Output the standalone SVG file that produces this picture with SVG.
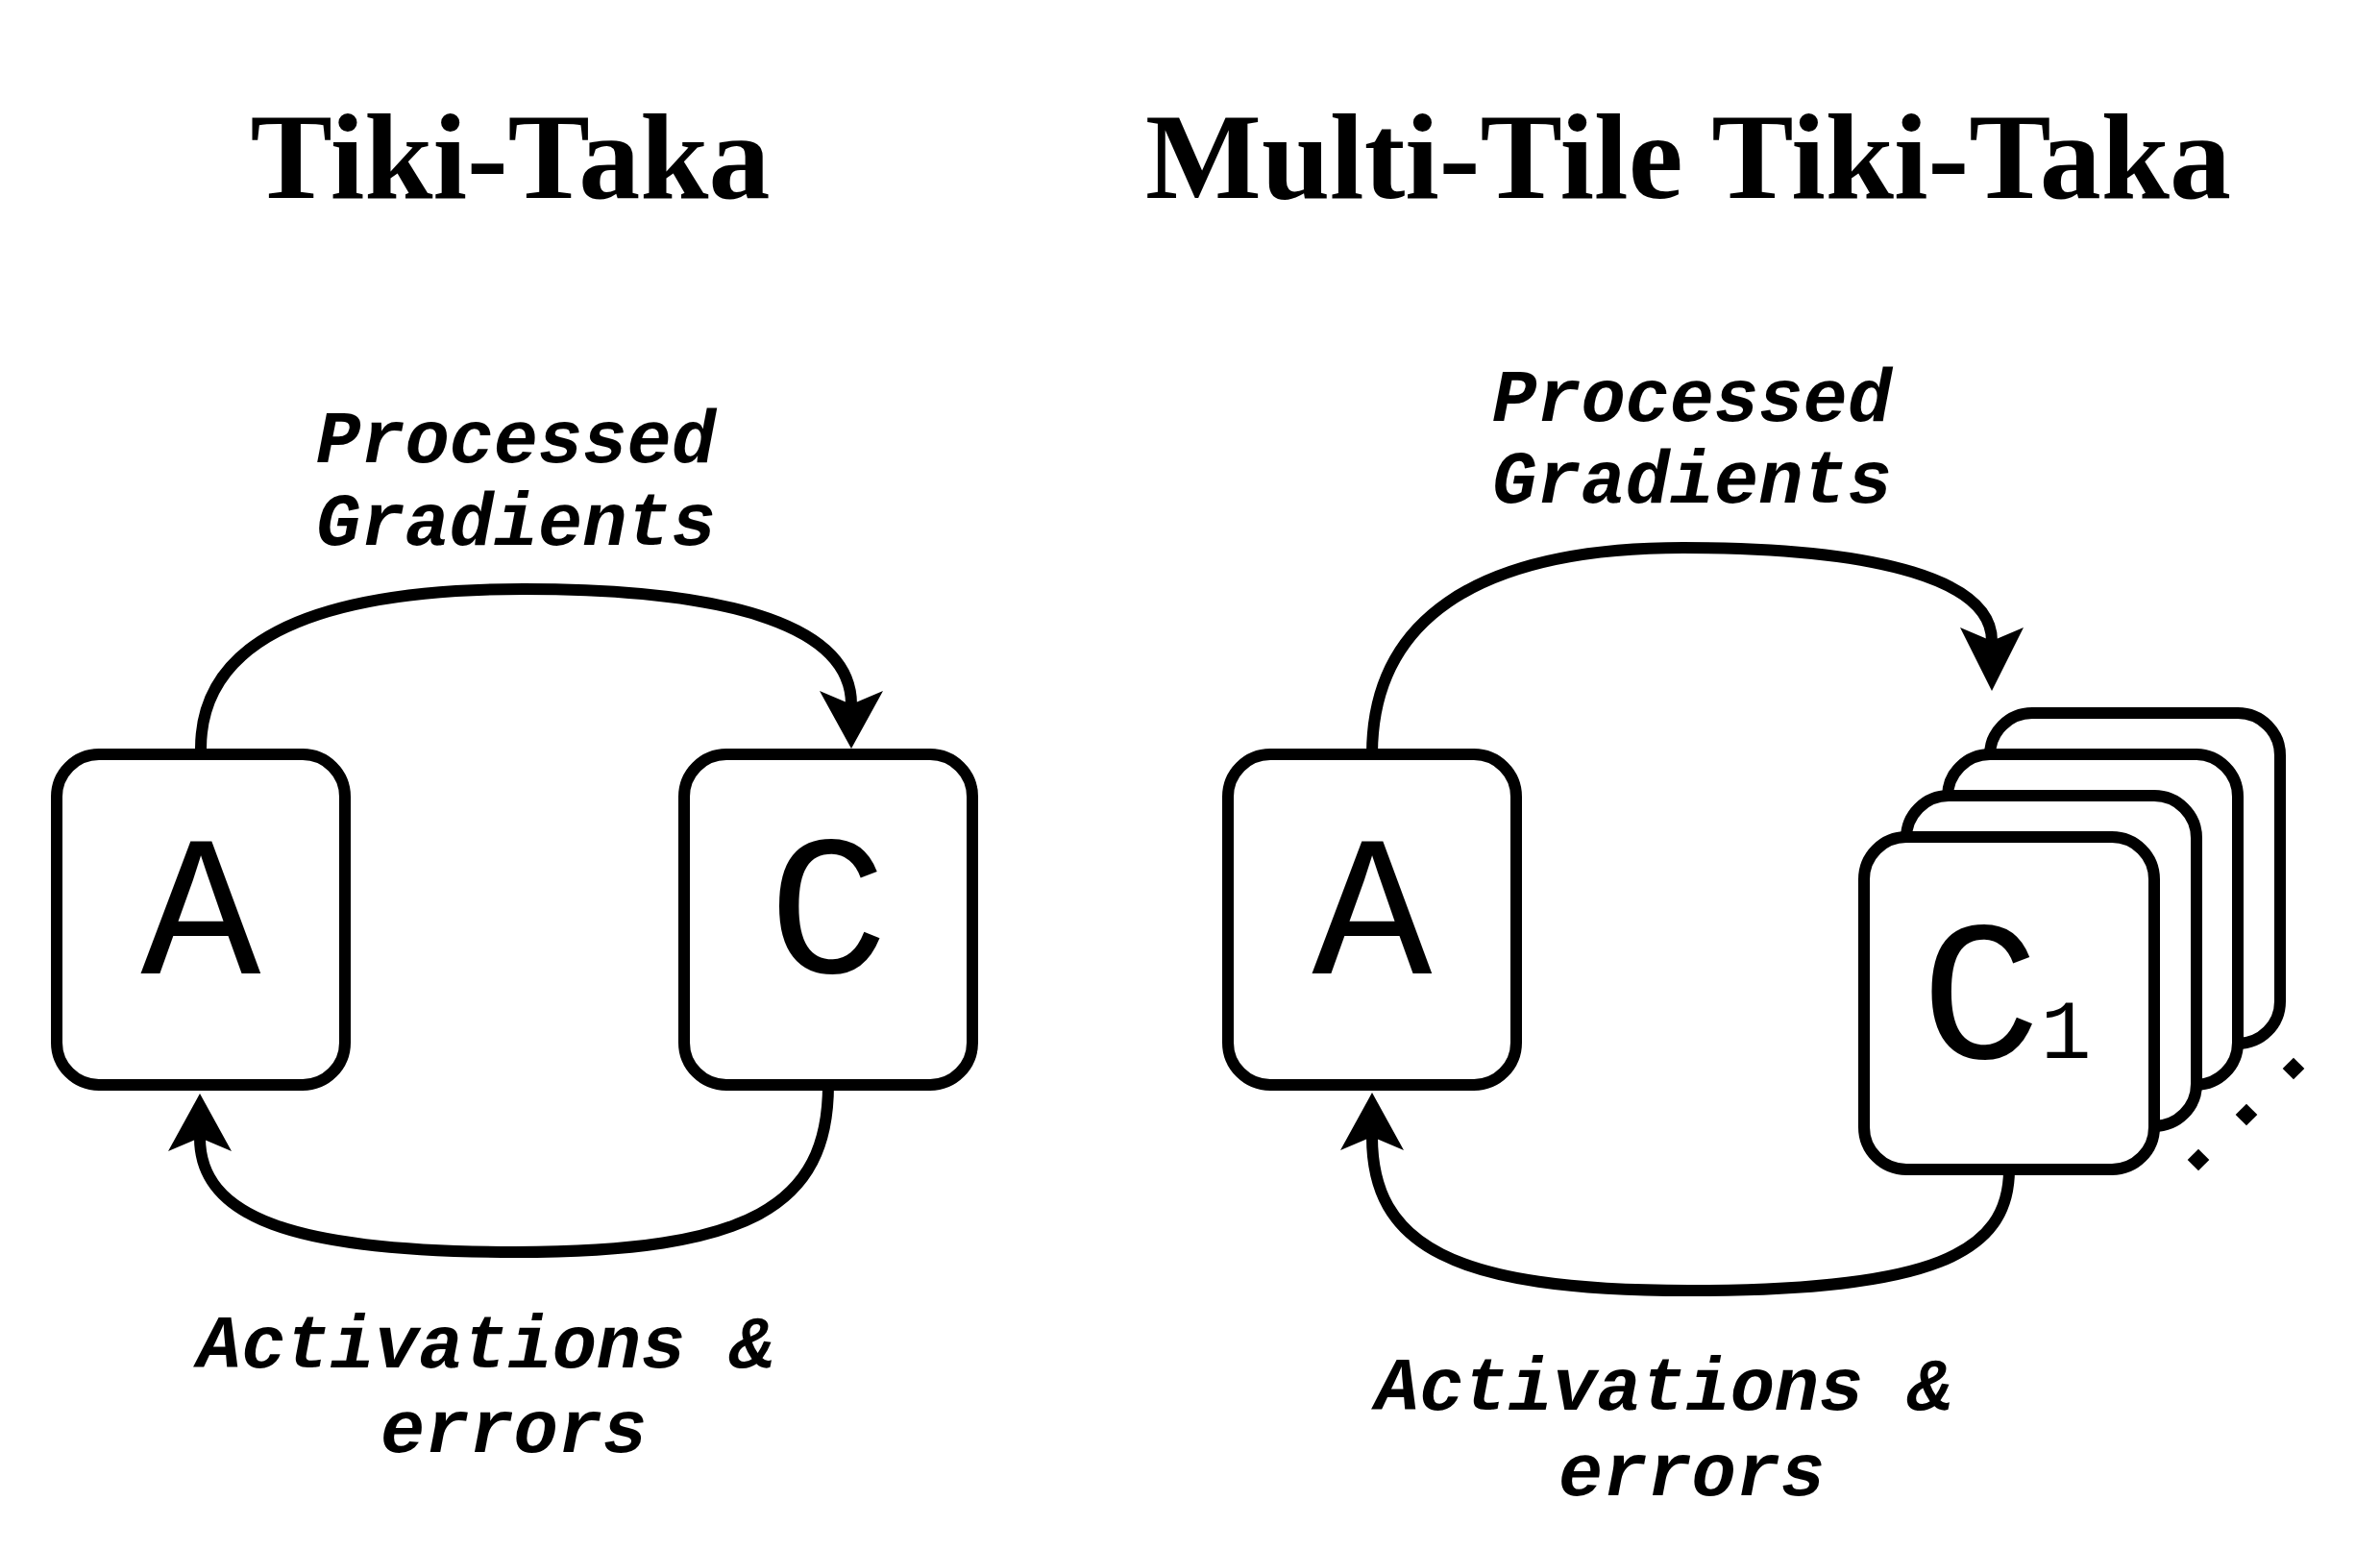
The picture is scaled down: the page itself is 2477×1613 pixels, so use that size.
<svg xmlns="http://www.w3.org/2000/svg" width="2477" height="1613" viewBox="0 0 2477 1613">
<style>
.title{font-family:"Liberation Serif",serif;font-weight:bold;font-size:128px;fill:#000;text-anchor:middle}
.box{fill:#fff;stroke:#000;stroke-width:12}
.big{font-family:"Liberation Mono",monospace;font-size:208px;fill:#000}
.lbl{font-family:"Liberation Mono",monospace;font-weight:bold;font-style:italic;font-size:77px;fill:#000}
.conn{fill:none;stroke:#000;stroke-width:12}
</style>
<defs>
<marker id="arr" markerUnits="userSpaceOnUse" markerWidth="80" markerHeight="80" viewBox="0 -40 80 80" refX="14" refY="0" orient="auto" overflow="visible">
<path d="M0,-33 L60,0 L0,33 L14,0 Z" fill="#000"/>
</marker>
<marker id="arrL" markerUnits="userSpaceOnUse" markerWidth="80" markerHeight="80" viewBox="0 -40 80 80" refX="14" refY="0" orient="auto" overflow="visible">
<path d="M0,-33 L66,0 L0,33 L14,0 Z" fill="#000"/>
</marker>
</defs>
<rect width="2477" height="1613" fill="#fff"/>
<g id="titles">
<text class="title" x="531" y="206">Tiki-Taka</text>
<text class="title" x="1757" y="206">Multi-Tile Tiki-Taka</text>
</g>
<g id="connectors">
<path class="conn" d="M209 779 C209 675 310 613 545 613 C770 613 886 655 886 733" marker-end="url(#arr)"/>
<path class="conn" d="M862 1129 C862 1255 780 1303 536 1303 C300 1303 208 1265 208 1184" marker-end="url(#arr)"/>
<path class="conn" d="M1428 785 C1428 650 1530 570 1752 570 C1960 570 2073 605 2073 667" marker-end="url(#arrL)"/>
<path class="conn" d="M2091 1217 C2091 1305 2010 1343 1757 1343 C1510 1343 1428 1295 1428 1183" marker-end="url(#arr)"/>
</g>
<g id="labels">
<text class="lbl" x="329" y="481">Processed</text>
<text class="lbl" x="329" y="567">Gradients</text>
<text class="lbl" x="205" y="1423">Activations &amp;</text>
<text class="lbl" x="396" y="1511">errors</text>
<text class="lbl" x="1553" y="438">Processed</text>
<text class="lbl" x="1553" y="523">Gradients</text>
<text class="lbl" x="1431" y="1467">Activations &amp;</text>
<text class="lbl" x="1622" y="1556">errors</text>
</g>
<g id="node-A-left">
<rect class="box" x="59" y="785" width="300" height="344" rx="44"/>
<text class="big" x="209" y="1013" text-anchor="middle">A</text>
</g>
<g id="node-C-left">
<rect class="box" x="712" y="785" width="300" height="344" rx="44"/>
<text class="big" x="862" y="1012" text-anchor="middle">C</text>
</g>
<g id="node-A-right">
<rect class="box" x="1278" y="785" width="300" height="344" rx="44"/>
<text class="big" x="1428" y="1013" text-anchor="middle">A</text>
</g>
<g id="node-C-stack">
<rect class="box" x="2071" y="742" width="302" height="344" rx="44"/>
<rect class="box" x="2027" y="785" width="302" height="344" rx="44"/>
<rect class="box" x="1984" y="828" width="302" height="344" rx="44"/>
<rect class="box" x="1940" y="871" width="302" height="346" rx="44"/>
<text class="big" x="1999" y="1101">C<tspan font-size="88">1</tspan></text>
<g fill="#000">
<rect x="2280" y="1199" width="16" height="16" transform="rotate(45 2288 1207)"/>
<rect x="2330" y="1152" width="16" height="16" transform="rotate(45 2338 1160)"/>
<rect x="2379" y="1104" width="16" height="16" transform="rotate(45 2387 1112)"/>
</g>
</g>
</svg>
